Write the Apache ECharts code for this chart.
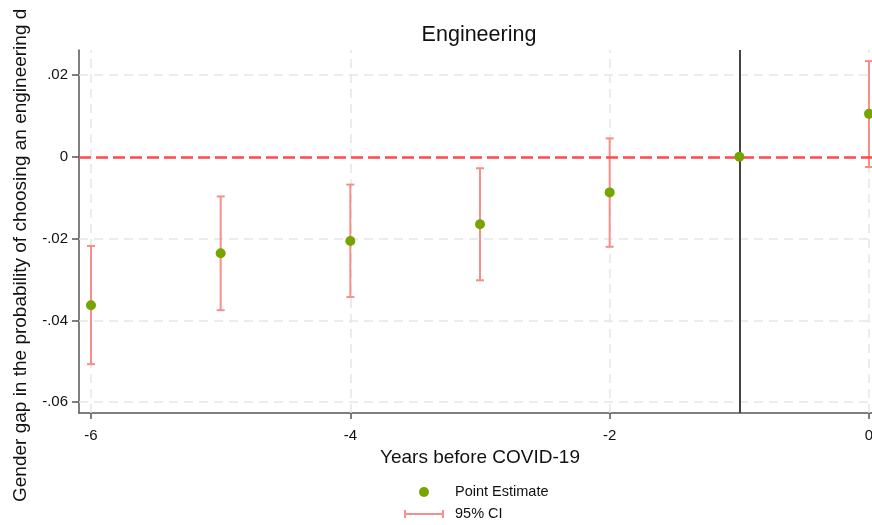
<!DOCTYPE html>
<html>
<head>
<meta charset="utf-8">
<script src="https://cdn.jsdelivr.net/npm/echarts@6/dist/echarts.min.js"></script>
<style>
  html, body { margin: 0; padding: 0; background: #fff; }
  #chart { width: 872px; height: 525px; }
</style>
</head>
<body>
<div id="chart"></div>
<script>
// Event-study estimates: years relative to COVID-19
var years = [-6, -5, -4, -3, -2, -1, 0];
var estimates = [-0.0363, -0.0236, -0.0206, -0.0165, -0.0087, 0, 0.0105];
var ciLower = [-0.0507, -0.0375, -0.0343, -0.0302, -0.0220, null, -0.0025];
var ciUpper = [-0.0218, -0.0097, -0.0068, -0.0028, 0.0045, null, 0.0234];

// Axis ticks
var xTicks = [-6, -4, -2, 0];
var yTicks = [0.02, 0, -0.02, -0.04, -0.06];
var referenceYear = -1;

var FONT = '"Liberation Sans", Arial, Helvetica, sans-serif';
var CI_COLOR = '#fb8d89';
var POINT_COLOR = '#77a500';

function fmtY(v) {
  if (Math.abs(v) < 1e-9) return '0';
  var s = Math.abs(v).toFixed(2).replace(/^0/, '');
  return (v < 0 ? '-' : '') + s;
}

var pointData = years.map(function (y, i) { return [y, estimates[i]]; });
var ciData = [];
years.forEach(function (y, i) {
  if (ciLower[i] !== null) ciData.push([y, ciLower[i], ciUpper[i]]);
});

var gridDash = { color: '#e6e6e6', width: 1.5, type: [9, 6] };

// legend key drawn by hand: a dot and a capped bar, stacked
function legendGraphics() {
  var cx = 424, y1 = 492, y2 = 514, tx = 455;
  var st = { stroke: CI_COLOR, lineWidth: 2, fill: null };
  return [
    { type: 'circle', shape: { cx: cx, cy: y1, r: 5 }, style: { fill: POINT_COLOR } },
    { type: 'text', x: tx, y: y1, style: { text: 'Point Estimate', font: '14.5px ' + FONT, fill: '#111', verticalAlign: 'middle' } },
    { type: 'line', shape: { x1: 405, y1: y2, x2: 443, y2: y2 }, style: st },
    { type: 'line', shape: { x1: 405, y1: y2 - 4, x2: 405, y2: y2 + 4 }, style: st },
    { type: 'line', shape: { x1: 443, y1: y2 - 4, x2: 443, y2: y2 + 4 }, style: st },
    { type: 'text', x: tx, y: y2, style: { text: '95% CI', font: '14.5px ' + FONT, fill: '#111', verticalAlign: 'middle' } }
  ];
}

var chart = echarts.init(document.getElementById('chart'), null, { renderer: 'canvas' });
chart.setOption({
  animation: false,
  backgroundColor: '#ffffff',
  textStyle: { fontFamily: FONT },
  grid: { left: 79, top: 50, right: 0, bottom: 112, containLabel: false, outerBoundsMode: 'none' },
  xAxis: {
    type: 'value',
    min: -6.0925,
    max: 0.023,
    name: 'Years before COVID-19',
    nameLocation: 'middle',
    nameGap: 33,
    nameTextStyle: { fontFamily: FONT, fontSize: 19, color: '#111', padding: [0, 0, 0, 9] },
    axisLine: { show: true, onZero: false, lineStyle: { color: '#555', width: 1.5 } },
    axisTick: { show: true, customValues: xTicks, length: 6, lineStyle: { color: '#555', width: 1.5 } },
    axisLabel: { customValues: xTicks, margin: 15, fontSize: 15, color: '#111', fontFamily: FONT,
                 hideOverlap: false, formatter: function (v) { return String(v); } },
    splitLine: { show: false }
  },
  yAxis: {
    type: 'value',
    min: -0.06264,
    max: 0.02611,
    axisLine: { show: true, onZero: false, lineStyle: { color: '#555', width: 1.5 } },
    axisTick: { show: true, customValues: yTicks, length: 7, lineStyle: { color: '#555', width: 1.5 } },
    axisLabel: { customValues: yTicks, margin: 11, fontSize: 15, color: '#111', fontFamily: FONT,
                 formatter: fmtY },
    splitLine: { show: false }
  },
  graphic: [
    {
      type: 'text',
      x: 479,
      y: 35,
      style: { text: 'Engineering', font: '21.5px ' + FONT, fill: '#111', align: 'center', verticalAlign: 'middle' }
    },
    {
      type: 'text',
      x: 21,
      y: 502,
      rotation: Math.PI / 2,
      style: {
        text: 'Gender gap in the probability of choosing an engineering d',
        font: '19px ' + FONT,
        fill: '#111',
        align: 'left',
        verticalAlign: 'middle'
      }
    }
  ].concat(legendGraphics()),
  series: [
    {
      // dashed background grid
      name: 'grid',
      type: 'line',
      data: [],
      silent: true,
      z: 1,
      markLine: {
        z: 1,
        silent: true,
        symbol: ['none', 'none'],
        label: { show: false },
        lineStyle: gridDash,
        data: xTicks.map(function (t) { return { xAxis: t }; })
          .concat(yTicks.filter(function (t) { return t !== 0; }).map(function (t) { return { yAxis: t }; }))
      }
    },
    {
      name: '95% CI',
      type: 'custom',
      z: 3,
      itemStyle: { color: CI_COLOR },
      data: ciData,
      encode: { x: 0, y: [1, 2] },
      renderItem: function (params, api) {
        var x = api.value(0);
        var lo = api.coord([x, api.value(1)]);
        var hi = api.coord([x, api.value(2)]);
        var half = 4;
        var st = { stroke: CI_COLOR, lineWidth: 2, fill: null };
        return {
          type: 'group',
          children: [
            { type: 'line', shape: { x1: lo[0], y1: lo[1], x2: hi[0], y2: hi[1] }, style: st },
            { type: 'line', shape: { x1: lo[0] - half, y1: lo[1], x2: lo[0] + half, y2: lo[1] }, style: st },
            { type: 'line', shape: { x1: hi[0] - half, y1: hi[1], x2: hi[0] + half, y2: hi[1] }, style: st }
          ]
        };
      }
    },
    {
      // reference lines: zero effect and the omitted base year
      name: 'ref',
      type: 'line',
      data: [],
      silent: true,
      z: 4,
      markLine: {
        z: 4,
        silent: true,
        symbol: ['none', 'none'],
        label: { show: false },
        data: [
          { yAxis: 0, lineStyle: { color: '#ff4a4a', width: 2.5, type: [12, 5] } },
          { xAxis: referenceYear, lineStyle: { color: '#444', width: 2, type: 'solid' } }
        ]
      }
    },
    {
      name: 'Point Estimate',
      type: 'scatter',
      z: 5,
      symbol: 'circle',
      symbolSize: 10,
      itemStyle: { color: POINT_COLOR, opacity: 1 },
      data: pointData
    }
  ]
});
</script>
</body>
</html>
